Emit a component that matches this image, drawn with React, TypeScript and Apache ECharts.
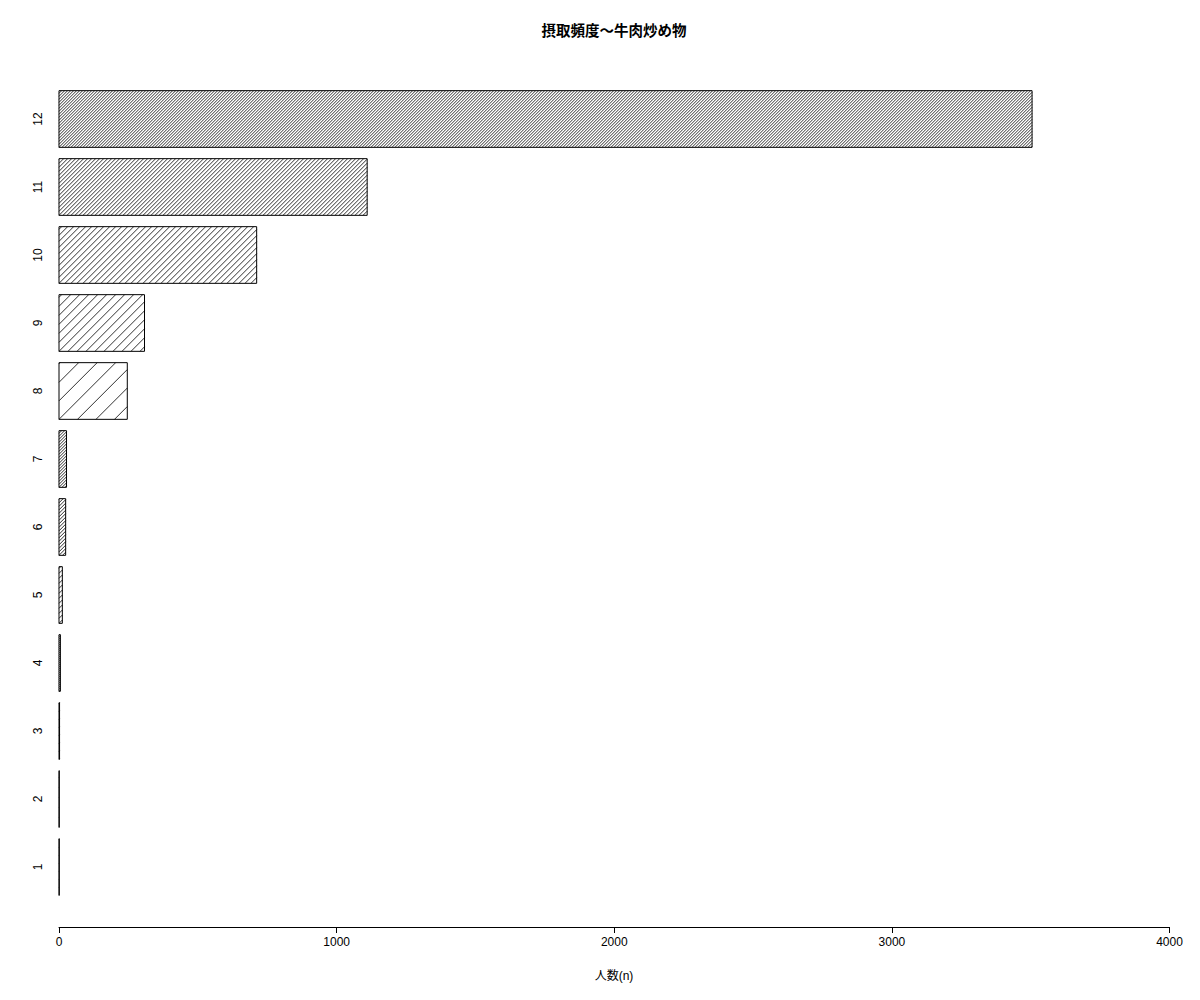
import React, { useEffect, useRef } from "react";
import * as echarts from "echarts";

const TITLE = "摂取頻度〜牛肉炒め物";
const X_LABEL = "人数(n)";
const CATEGORIES = ["1", "2", "3", "4", "5", "6", "7", "8", "9", "10", "11", "12"];
const COUNTS = [1, 1, 2, 5, 12, 24, 27, 246, 308, 712, 1110, 3505];
const X_TICKS = [0, 1000, 2000, 3000, 4000];
// horizontal spacing (px) of the 45° hatch lines for each bar
const HATCH_SPACING = [8, 10, 8, 2, 5, 3.5, 3, 18.5, 9, 6, 4, 3];

const FONT = "'Liberation Sans', Arial, 'Noto Sans CJK JP', sans-serif";

export default function App() {
  const ref = useRef<HTMLDivElement>(null);

  useEffect(() => {
    if (!ref.current) return;
    const chart = echarts.init(ref.current, null, { renderer: "svg" });

    const data = COUNTS.map((v, i) => [v, CATEGORIES[i]]);

    const renderItem = (params: any, api: any) => {
      const idx = api.value(1);
      const v = api.value(0);
      const p0 = api.coord([0, idx]);
      const p1 = api.coord([v, idx]);
      const band = api.size([0, 1])[1];
      const h = band / 1.2;
      const x0 = p0[0];
      const x1 = p1[0];
      const y0 = p0[1] - h / 2;
      const y1 = p0[1] + h / 2;
      const s = HATCH_SPACING[params.dataIndex] || 6;
      const children: any[] = [];
      const cStart = x0 + y0;
      const cEnd = x1 + y1;
      const base = x0 + y1;
      const k = Math.ceil((cStart - base) / s);
      for (let c = base + k * s; c <= cEnd; c += s) {
        const xa = Math.max(x0, c - y1);
        const xb = Math.min(x1, c - y0);
        if (xb - xa <= 0.01) continue;
        children.push({
          type: "line",
          shape: { x1: xa, y1: c - xa, x2: xb, y2: c - xb },
          style: { stroke: "#1a1a1a", lineWidth: 0.9 },
          silent: true,
        });
      }
      children.push({
        type: "rect",
        shape: { x: x0, y: y0, width: Math.max(x1 - x0, 0), height: h },
        style: { fill: "none", stroke: "#000", lineWidth: 1 },
        silent: true,
      });
      return { type: "group", children };
    };

    chart.setOption({
      animation: false,
      backgroundColor: "#ffffff",
      grid: { left: 59, right: 30.5, top: 85, height: 816, containLabel: false },
      xAxis: {
        type: "value",
        min: X_TICKS[0],
        max: X_TICKS[X_TICKS.length - 1],
        interval: 1000,
        offset: 26,
        splitLine: { show: false },
        axisLine: { show: true, lineStyle: { color: "#000", width: 1 } },
        axisTick: { show: true, length: 6, lineStyle: { color: "#000" } },
        axisLabel: {
          color: "#000",
          fontSize: 12,
          fontFamily: FONT,
          margin: 9,
          formatter: (v: number) => String(v),
        },
      },
      yAxis: {
        type: "category",
        data: CATEGORIES,
        axisLine: { show: false },
        axisTick: { show: false },
        splitLine: { show: false },
        axisLabel: {
          rotate: 90,
          color: "#000",
          fontSize: 12,
          fontFamily: FONT,
          margin: 15,
        },
      },
      series: [
        {
          type: "custom",
          renderItem,
          encode: { x: 0, y: 1 },
          data,
          clip: false,
        },
      ],
      graphic: [
        {
          type: "text",
          x: 614,
          y: 29.5,
          style: {
            text: TITLE,
            textAlign: "center",
            textVerticalAlign: "middle",
            fontSize: 14.5,
            fontWeight: "bold",
            fontFamily: "'Noto Sans CJK JP', sans-serif",
            fill: "#000",
          },
        },
        {
          type: "text",
          x: 614,
          y: 976,
          style: {
            text: X_LABEL,
            textAlign: "center",
            textVerticalAlign: "middle",
            fontSize: 12,
            fontFamily: "'Liberation Sans', 'Noto Sans CJK JP', sans-serif",
            fill: "#000",
          },
        },
      ],
    });

    return () => chart.dispose();
  }, []);

  return (
    <div
      ref={ref}
      style={{ position: "fixed", left: 0, top: 0, width: 1200, height: 1000, background: "#fff" }}
    />
  );
}
